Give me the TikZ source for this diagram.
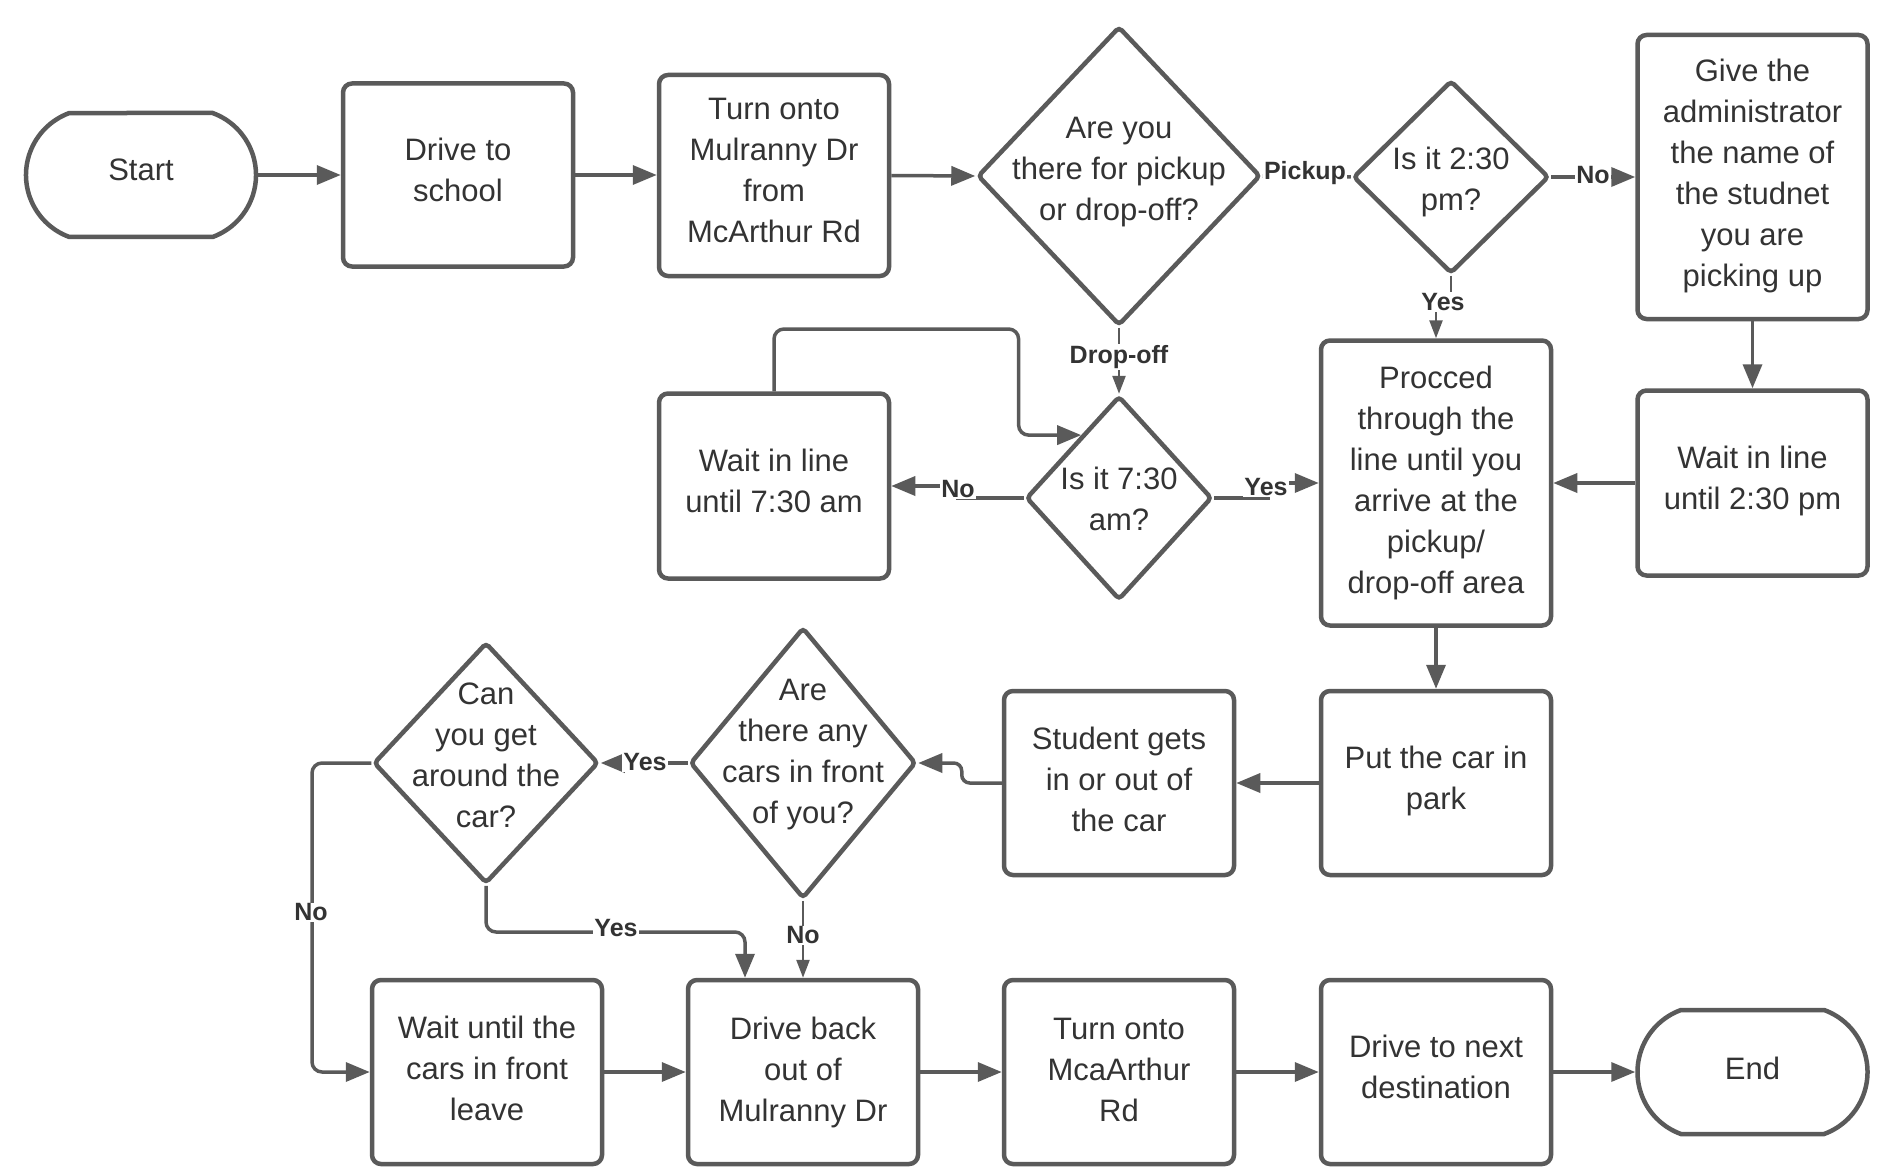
\documentclass[tikz,border=0pt]{standalone}
\usepackage{fontspec}
\setmainfont{Liberation Sans}
\usetikzlibrary{shapes.geometric,shapes.misc,arrows.meta,calc}
\definecolor{ln}{RGB}{90,90,90}
\definecolor{tx}{RGB}{51,51,51}
\begin{document}
\begin{tikzpicture}[x=1pt,y=-1pt,
  txt/.style={text=tx, font=\fontsize{31}{41}\selectfont, align=center, inner sep=0pt},
  box/.style={draw=ln, line width=4.5pt, rounded corners=9pt, fill=white,
     minimum width=230pt, minimum height=184pt, inner sep=0pt},
  term/.style={draw=ln, line width=4.5pt, rounded rectangle, rounded rectangle arc length=140,
     fill=white, minimum width=230pt, minimum height=124pt, inner sep=0pt},
  dia/.style={draw=ln, line width=4.5pt, diamond, rounded corners=4pt, fill=white, inner sep=0pt},
  arr/.style={draw=ln, line width=3.5pt, -{Triangle[length=24pt,width=19pt]}},
  tarr/.style={draw=ln, line width=2.5pt, -{Triangle[length=18pt,width=13pt]}},
  plain/.style={draw=ln, line width=3.5pt},
  lbl/.style={fill=white, text=tx, font=\fontsize{25}{28}\bfseries\selectfont, inner sep=1pt},
]
\fill[white] (0,0) rectangle (1890,1169);
\useasboundingbox (0,0) rectangle (1890,1169);

% Row 1
\node[term, label={[txt,yshift=5pt]center:Start}] (start) at (141,175) {};
\node[box, minimum height=183pt, label={[txt,yshift=5pt]center:{Drive to\\school}}] (drive) at (458,175) {};
\node[box, minimum height=201pt, label={[txt,yshift=5pt]center:{Turn onto\\Mulranny Dr\\from\\McArthur Rd}}] (turn) at (774,175.5) {};
\node[dia, minimum width=283pt, minimum height=299pt,
      label={[txt,yshift=4pt]center:{Are you\\there for pickup\\or drop-off?}}] (d1) at (1119,176) {};
\node[dia, minimum width=196pt, minimum height=193pt,
      label={[txt,yshift=-5pt]center:{Is it 2:30\\pm?}}] (d2) at (1451,177) {};
\node[box, minimum height=284pt, label={[txt,yshift=1pt]center:{Give the\\administrator\\the name of\\the studnet\\you are\\picking up}}] (give) at (1752.5,177) {};

% Row 2
\node[box, minimum height=185pt, label={[txt,yshift=5pt]center:{Wait in line\\until 7:30 am}}] (w730) at (774,486) {};
\node[dia, minimum width=186pt, minimum height=204pt,
      label={[txt,yshift=-1pt]center:{Is it 7:30\\am?}}] (d730) at (1119,498) {};
\node[box, minimum height=285pt, label={[txt]center:{Procced\\through the\\line until you\\arrive at the\\pickup/\\drop-off area}}] (proc) at (1436,483) {};
\node[box, minimum height=185pt, label={[txt,yshift=2pt]center:{Wait in line\\until 2:30 pm}}] (w230) at (1752.5,483) {};

% Row 3
\node[box, label={[txt,yshift=2pt]center:{Put the car in\\park}}] (put) at (1436,783) {};
\node[box, label={[txt,yshift=4pt]center:{Student gets\\in or out of\\the car}}] (stud) at (1119,783) {};
\node[dia, minimum width=226pt, minimum height=271pt,
      label={[txt,yshift=8pt]center:{Are\\there any\\cars in front\\of you?}}] (dcars) at (803,763) {};
\node[dia, minimum width=225pt, minimum height=241pt,
      label={[txt,yshift=8pt]center:{Can\\you get\\around the\\car?}}] (dcan) at (486,763) {};

% Row 4
\node[box, label={[txt,yshift=4pt]center:{Wait until the\\cars in front\\leave}}] (wu) at (487,1072) {};
\node[box, label={[txt]center:{Drive back\\out of\\Mulranny Dr}}] (db) at (803,1072) {};
\node[box, label={[txt,yshift=2pt]center:{Turn onto\\McaArthur\\Rd}}] (turn2) at (1119,1072) {};
\node[box, label={[txt,yshift=5pt]center:{Drive to next\\destination}}] (next) at (1436,1072) {};
\node[term, label={[txt,yshift=4pt]center:End}] (end) at (1752.5,1072) {};

% Connectors row 1
\draw[arr] (start.east) -- (drive.west |- start.east);
\draw[arr] (drive.east) -- (turn.west |- drive.east);
\draw[arr] (turn.east) -- (d1.west);
\draw[plain] (d1.east) -- (d2.west);
\node[lbl] (lpick) at (1305,173) {Pickup};
\draw[arr] (d2.east) -- (give.west |- d2.east);
\node[lbl] (lno1) at (1593,175) {No};
\draw[tarr] (d2.south) -- ++(0,28) -| (proc.north);
\node[lbl] (lyes1) at (1443,302) {Yes};
\draw[arr] (give.south) -- (w230.north);
\draw[arr] (w230.west) -- (proc.east |- w230.west);

% Connectors row 2
\draw[tarr] (d1.south) -- (d730.north);
\node[lbl] (ldrop) at (1119,357) {Drop-off};
\draw[arr] (d730.west) -- ++(-66,0) |- (w730.east);
\node[lbl] (lno2) at (958,489) {No};
\draw[arr] (d730.east) -- ++(54,0) |- (proc.west);
\node[lbl] (lyes2) at (1266,487) {Yes};
\coordinate (lp) at (1018.6,329);
\draw[arr, rounded corners=10pt] (w730.north) |- (lp) |- (d730.121.5);

% Connectors row 3
\draw[arr] (proc.south) -- (put.north);
\draw[arr] (put.west) -- (stud.east);
\draw[arr, rounded corners=8pt] (stud.west) -| ++(-40,-20) -- (dcars.east);
\draw[arr] (dcars.west) -- (dcan.east);
\node[lbl] (lyes3) at (645,762) {Yes};
\draw[tarr] (dcars.south) -- (db.north);
\node[lbl] (lno3) at (803,935.5) {No};
\coordinate (yj) at (745,932);
\draw[arr, rounded corners=10pt] (dcan.south) |- (yj) -- (yj |- db.north);
\node[lbl] (lyes4) at (616,928) {Yes};
\coordinate (nj) at (312,763);
\draw[arr, rounded corners=10pt] (dcan.west) -- (nj) |- (wu.west);
\node[lbl] (lno4) at (311,912.5) {No};

% Row 4 connectors
\draw[arr] (wu.east) -- (db.west);
\draw[arr] (db.east) -- (turn2.west);
\draw[arr] (turn2.east) -- (next.west);
\draw[arr] (next.east) -- (end.west);
\end{tikzpicture}
\end{document}
